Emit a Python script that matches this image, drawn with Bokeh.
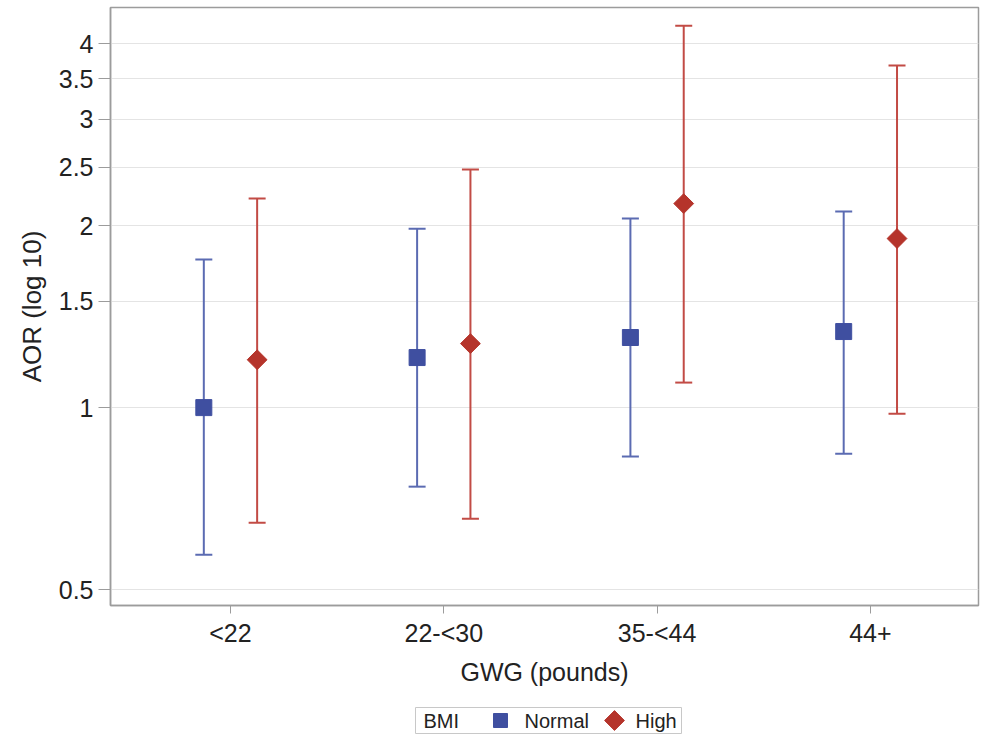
import numpy as np
from bokeh.plotting import figure
from bokeh.layouts import column
from bokeh.models import (ColumnDataSource, FixedTicker, CustomJSTickFormatter, Whisker,
                          TeeHead, Range1d)
from bokeh.core.properties import value
from bokeh.embed import file_html
from bokeh.resources import INLINE

# ---- data ----
categories = ["<22", "22-<30", "35-<44", "44+"]
normal_aor = [1.00, 1.21, 1.306, 1.336]
normal_lower = [0.571, 0.740, 0.830, 0.839]
normal_upper = [1.757, 1.977, 2.054, 2.110]
high_aor = [1.20, 1.276, 2.175, 1.904]
high_lower = [0.645, 0.655, 1.100, 0.977]
high_upper = [2.217, 2.476, 4.28, 3.68]
y_ticks = [0.5, 1, 1.5, 2, 2.5, 3, 3.5, 4]
legend_title = "BMI"
legend_labels = ["Normal", "High"]

FONT = "Liberation Sans"
TXT = "#222222"
BLUE_M = "#3F4FA0"
BLUE_L = "#5B6BB2"
RED_M = "#B5342B"
RED_L = "#C24B45"
FRAME = "#9C9C9C"
W = 981
FL, FR = 110, 978   # frame edges in page pixels

xpos = np.arange(len(categories), dtype=float)
off = 0.125

src_n = ColumnDataSource(dict(x=xpos - off, y=normal_aor, lo=normal_lower, hi=normal_upper))
src_h = ColumnDataSource(dict(x=xpos + off, y=high_aor, lo=high_lower, hi=high_upper))

p = figure(width=W, height=700, y_axis_type="log",
           x_range=Range1d(-0.5625, 3.507), y_range=Range1d(0.4706, 4.59),
           output_backend="svg", toolbar_location=None,
           min_border_left=FL, min_border_right=W - FR, min_border_top=7, min_border_bottom=95)

p.outline_line_color = FRAME
p.outline_line_width = 1.5
p.background_fill_color = "white"
p.border_fill_color = "white"

p.xgrid.grid_line_color = None
p.ygrid.grid_line_color = "#E4E4E4"
p.ygrid.grid_line_width = 1

# error bars
for src, col in ((src_n, BLUE_L), (src_h, RED_L)):
    w = Whisker(source=src, base="x", lower="lo", upper="hi", dimension="height",
                line_color=col, line_width=2, level="underlay",
                upper_head=TeeHead(size=17, line_color=col, line_width=2),
                lower_head=TeeHead(size=17, line_color=col, line_width=2))
    p.add_layout(w)

p.scatter("x", "y", source=src_n, marker="square", size=16,
          fill_color=BLUE_M, line_color=BLUE_M)
p.scatter("x", "y", source=src_h, marker="square", angle=np.pi / 4, size=14,
          fill_color=RED_M, line_color=RED_M)

# axes
p.yaxis.ticker = FixedTicker(ticks=y_ticks)
p.yaxis.formatter = CustomJSTickFormatter(code="return String(Math.round(tick*10)/10);")
p.xaxis.ticker = FixedTicker(ticks=list(xpos))
p.xaxis.major_label_overrides = {i: c for i, c in enumerate(categories)}

for ax in (p.xaxis[0], p.yaxis[0]):
    ax.axis_line_color = FRAME
    ax.axis_line_width = 1.5
    ax.major_tick_line_color = FRAME
    ax.major_tick_in = 0
    ax.minor_tick_line_color = None
    ax.major_label_text_font = FONT
    ax.major_label_text_font_size = "25px"
    ax.major_label_text_color = TXT
    ax.axis_label_text_font = FONT
    ax.axis_label_text_font_size = "25px"
    ax.axis_label_text_font_style = "normal"
    ax.axis_label_text_color = TXT

p.yaxis.major_tick_out = 12
p.yaxis.major_label_standoff = 5
p.yaxis.axis_label = "AOR (log 10)"
p.yaxis.axis_label_text_font_size = "26px"
p.yaxis.axis_label_standoff = 9
p.xaxis.major_tick_out = 8
p.xaxis.major_label_standoff = 5
p.xaxis.axis_label = "GWG (pounds)"
p.xaxis.axis_label_standoff = 8

# ---- legend strip (own small figure; its frame is aligned with the main frame,
#      so its x range is expressed in page pixels) ----
LH = 37
lg = figure(width=W, height=LH, x_range=Range1d(FL, FR), y_range=Range1d(0, LH),
            output_backend="svg", toolbar_location=None, min_border=0,
            x_axis_location=None, y_axis_location=None)
lg.grid.visible = False
lg.outline_line_color = None
lg.background_fill_color = "white"
lg.border_fill_color = "white"

lg.quad(left=[415], right=[681], bottom=[4], top=[30],
        fill_color="white", line_color="#C8C8C8", line_width=1)
lg.text(x=[423], y=[17], text=[legend_title], text_font=value(FONT),
        text_font_size="20px", text_color=TXT, text_align="left", text_baseline="middle")
lg.scatter(x=[500], y=[17], marker="square", size=14, fill_color=BLUE_M, line_color=BLUE_M)
lg.text(x=[524], y=[17], text=[legend_labels[0]], text_font=value(FONT),
        text_font_size="20px", text_color=TXT, text_align="left", text_baseline="middle")
lg.scatter(x=[614], y=[17], marker="square", angle=np.pi / 4, size=14,
           fill_color=RED_M, line_color=RED_M)
lg.text(x=[635], y=[17], text=[legend_labels[1]], text_font=value(FONT),
        text_font_size="20px", text_color=TXT, text_align="left", text_baseline="middle")

layout = column(p, lg, spacing=0)
open("out.html", "w").write(file_html(layout, INLINE))
